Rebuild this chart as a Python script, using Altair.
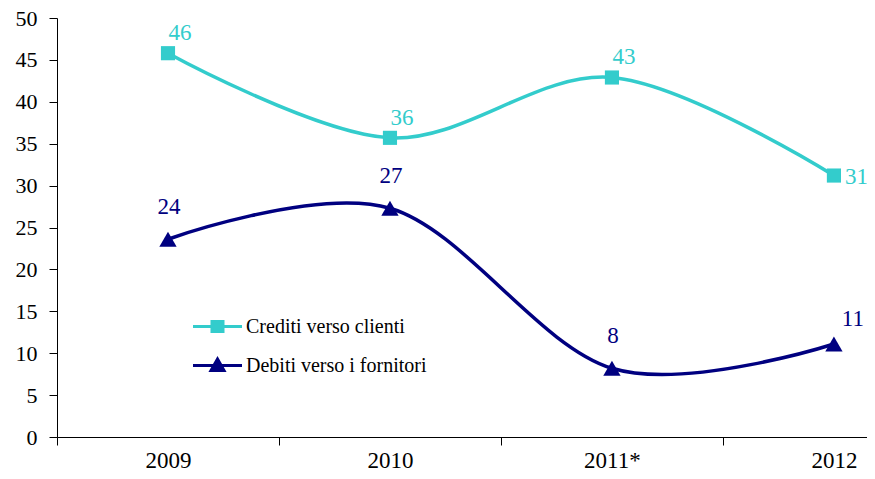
import altair as alt
import pandas as pd

# ---- data ----
years = ["2009", "2010", "2011*", "2012"]
crediti = [45.8, 35.7, 42.9, 31.2]
debiti = [23.6, 27.3, 8.2, 11.1]
series_names = ["Crediti verso clienti", "Debiti verso i fornitori"]
series_colors = ["#33CCCC", "#000080"]
y_ticks = [0, 5, 10, 15, 20, 25, 30, 35, 40, 45, 50]
title_text = "Quota % di imprese che hanno concesso (crediti) richiesto (debiti) dilazioni"

rows = []
for i, yr in enumerate(years):
    rows.append({"idx": i, "year": yr, "series": series_names[0], "value": crediti[i]})
    rows.append({"idx": i, "year": yr, "series": series_names[1], "value": debiti[i]})
df = pd.DataFrame(rows)
last = len(years) - 1

FONT = "Liberation Serif"

x_values = []
for i in range(len(years)):
    x_values += [i - 0.5, i]
names_js = "[" + ",".join("'" + y + "'" for y in years) + "]"

x_enc = alt.X(
    "idx:Q",
    scale=alt.Scale(domain=[-0.5, 3.149], nice=False, zero=False),
    axis=alt.Axis(
        values=x_values,
        labelExpr="datum.value % 1 === 0 ? " + names_js + "[datum.value] : ''",
        tickOpacity={"condition": {"test": "datum.value % 1 !== 0", "value": 1}, "value": 0},
        title=None, grid=False, tickSize=8, labelPadding=4, labelFlush=False,
        labelOverlap=False, labelFont=FONT, labelFontSize=23, labelColor="black",
        domainColor="black", tickColor="black", domainWidth=1, tickWidth=1,
    ),
)
y_enc = alt.Y(
    "value:Q",
    scale=alt.Scale(domain=[0, 50], nice=False, zero=True),
    axis=alt.Axis(
        values=y_ticks, title=None, grid=False, tickSize=8, labelPadding=12,
        labelFlush=False, labelFont=FONT, labelFontSize=22, labelColor="black",
        domainColor="black", tickColor="black", domainWidth=1, tickWidth=1,
    ),
)
# colour scale for lines/markers (domain order reversed so its hidden legend
# is not merged with the visible line+marker legend below)
color_enc = alt.Color(
    "series:N",
    scale=alt.Scale(domain=series_names[::-1], range=series_colors[::-1]),
    legend=None,
)

base = alt.Chart(df)

lines = base.mark_line(interpolate="cardinal", strokeWidth=3.5).encode(
    x=x_enc, y=y_enc, color=color_enc, detail="series:N"
)

pts_sq = base.transform_filter(alt.datum.series == series_names[0]).mark_point(
    shape="square", filled=True, size=200, opacity=1
).encode(x=x_enc, y=y_enc, color=color_enc)

pts_tri = base.transform_filter(alt.datum.series == series_names[1]).mark_point(
    shape="triangle-up", filled=True, size=300, opacity=1
).encode(x=x_enc, y=y_enc, color=color_enc)


def labels(name, cond, dx, dy, align="center", baseline="alphabetic"):
    return base.transform_filter(
        "datum.series === '" + name + "' && " + cond
    ).mark_text(
        font=FONT, fontSize=23, dx=dx, dy=dy, align=align, baseline=baseline
    ).encode(x=x_enc, y=y_enc, color=color_enc, text=alt.Text("value:Q", format=".0f"))


lab_c1 = labels(series_names[0], "datum.idx < " + str(last), 12, -13)
lab_c2 = labels(series_names[0], "datum.idx === " + str(last), 11, 1, align="left", baseline="middle")
lab_d1 = labels(series_names[1], "datum.idx < " + str(last), 1, -25)
lab_d2 = labels(series_names[1], "datum.idx === " + str(last), 19, -18)

# legend: line + marker symbols (custom paths)
legend_paths = [
    "M-2.45,0H2.45M-0.55,-0.5H0.55V0.5H-0.55Z",
    "M-2.45,0H2.45M0,-0.65L0.65,0.5H-0.65Z",
]
leg = alt.Legend(
    title=None, orient="none", legendX=149, legendY=297, padding=0,
    symbolSize=400, symbolStrokeWidth=3, symbolOpacity=1,
    labelFont=FONT, labelFontSize=20, labelColor="black", labelOffset=17,
    labelLimit=0, rowPadding=15,
)
legend_layer = base.mark_point(filled=True, opacity=0).encode(
    x=x_enc,
    y=y_enc,
    fill=alt.Fill("series:N", scale=alt.Scale(domain=series_names, range=series_colors), legend=leg),
    stroke=alt.Stroke("series:N", scale=alt.Scale(domain=series_names, range=series_colors), legend=leg),
    shape=alt.Shape("series:N", scale=alt.Scale(domain=series_names, range=legend_paths), legend=leg),
)

chart = alt.layer(
    lines, pts_sq, pts_tri, lab_c1, lab_c2, lab_d1, lab_d2, legend_layer
).properties(
    width=810,
    height=419,
    background="white",
    autosize=alt.AutoSizeParams(type="none"),
    padding={"left": 49, "top": 10, "right": 0, "bottom": 34},
    title=alt.TitleParams(
        text=title_text, anchor="start", dx=-72, dy=13, offset=0, baseline="alphabetic",
        font=FONT, fontStyle="italic", fontSize=24, fontWeight="normal", color="black",
        frame="group",
    ),
).configure_view(stroke=None).configure_legend(
    labelFont=FONT, labelFontSize=20, labelLimit=0,
)

chart.save("out.html", embed_options={"renderer": "svg", "actions": False})
